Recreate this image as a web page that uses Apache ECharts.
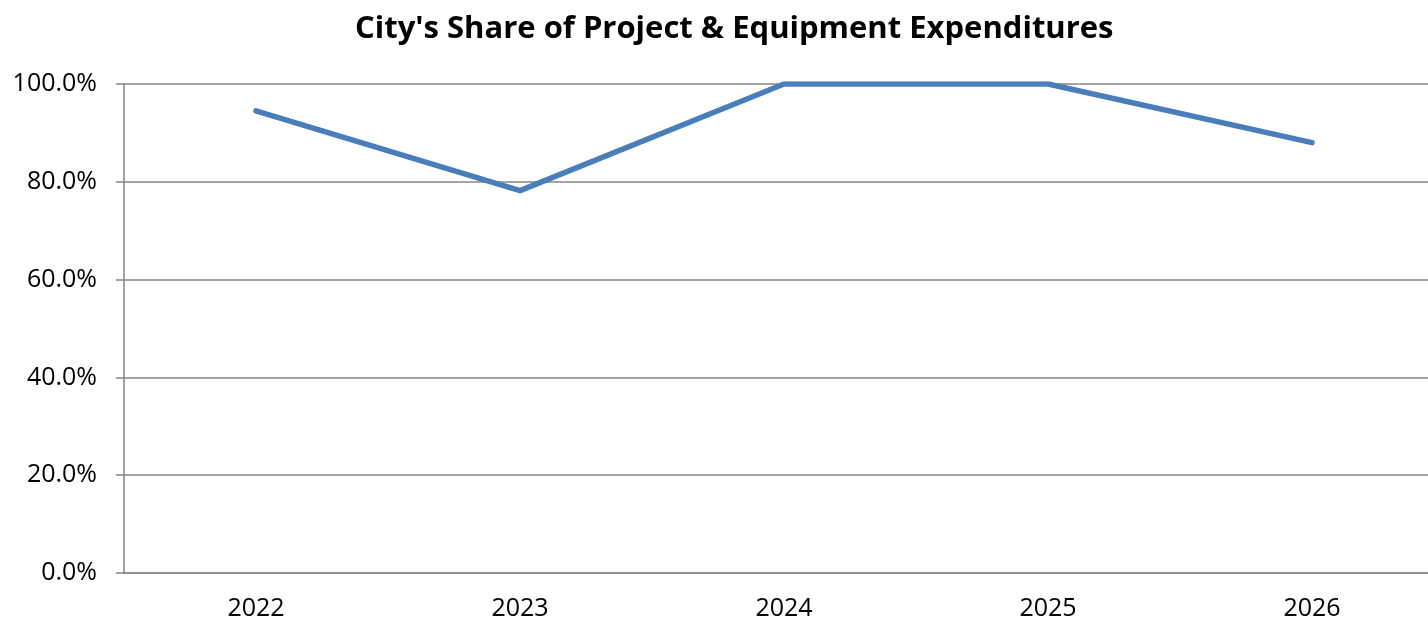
<!DOCTYPE html>
<html>
<head>
    <meta charset="utf-8">
    <script src="https://cdn.jsdelivr.net/npm/echarts@6/dist/echarts.min.js"></script>
    <style type="text/css">
        html, body { width: 100%; height: 100%; margin: 0; background: #fff; }
        #chart_share { width: 1428px; height: 624px; }
    </style>
</head>
<body>
<div id="chart_share"></div>
<script type="text/javascript">
    // data
    var years = ['2022', '2023', '2024', '2025', '2026'];
    var cityShare = [94.5, 78.2, 100.0, 100.0, 88.0];
    var yTicks = [0, 20, 40, 60, 80, 100];

    var shareChart = echarts.init(document.getElementById('chart_share'));
    var gray = '#868686';

    var option_share = {
        animation: false,
        textStyle: { fontFamily: 'Open Sans' },
        title: {
            text: "City's Share of Project & Equipment Expenditures",
            left: 350,
            top: 9,
            textStyle: { fontFamily: 'Open Sans', fontWeight: 'bold', fontSize: 31, color: '#000' }
        },
        grid: { left: 124, width: 1320, top: 84, bottom: 51, outerBoundsMode: 'none' },
        xAxis: {
            type: 'category',
            data: years,
            boundaryGap: true,
            axisLine: { lineStyle: { color: gray, width: 1.5 } },
            axisTick: { length: 8, lineStyle: { color: gray, width: 1.5 } },
            axisLabel: { color: '#000', fontSize: 25, margin: 23 }
        },
        yAxis: {
            type: 'value',
            min: yTicks[0],
            max: yTicks[yTicks.length - 1],
            interval: 20,
            axisLine: { show: true, lineStyle: { color: gray, width: 1.5 } },
            axisTick: { show: true, length: 8, lineStyle: { color: gray, width: 1.5 } },
            splitLine: { lineStyle: { color: gray, width: 1.5 } },
            axisLabel: {
                color: '#000', fontSize: 25, margin: 27,
                formatter: function (v) { return v.toFixed(1) + '%'; }
            }
        },
        series: [
            {
                type: 'line',
                data: cityShare,
                symbol: 'none',
                lineStyle: { color: '#4a7ebb', width: 5.5, cap: 'round', join: 'round' }
            }
        ]
    };

    shareChart.setOption(option_share);
</script>
</body>
</html>
